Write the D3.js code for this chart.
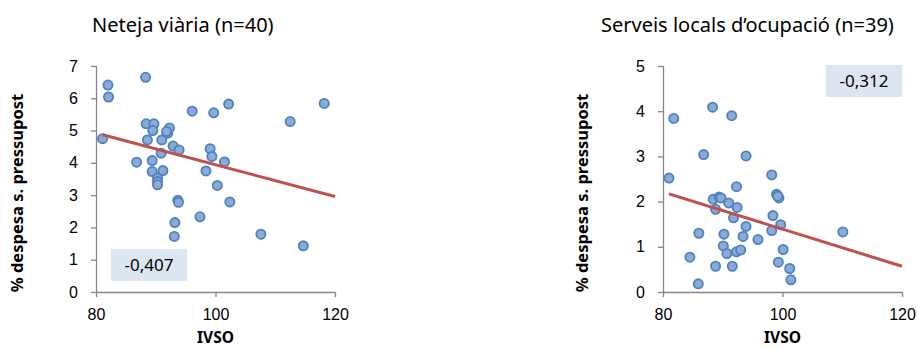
<!DOCTYPE html>
<html>
<head>
<meta charset="utf-8">
<script src="https://cdn.jsdelivr.net/npm/d3@7"></script>
<style>
  body { margin: 0; background: #fff; }
  svg { display: block; font-family: "Noto Sans", "Open Sans", sans-serif; }
</style>
</head>
<body>
<svg id="canvas" width="917" height="349"></svg>
<script>
// Neteja viària (n=40): [IVSO, % despesa]
const netejaPunts = [
  [81.1, 4.75], [82.0, 6.41], [82.1, 6.04], [88.3, 6.65], [86.8, 4.02],
  [88.4, 5.21], [89.7, 5.21], [89.5, 5.00], [88.6, 4.71], [89.4, 4.07],
  [89.4, 3.73], [90.3, 3.53], [90.3, 3.42], [90.3, 3.32], [91.0, 4.71],
  [90.9, 4.30], [91.2, 3.76], [92.0, 4.92], [92.3, 5.08], [92.9, 4.52],
  [93.9, 4.40], [93.7, 2.84], [93.8, 2.78], [93.2, 2.15], [93.1, 1.72],
  [96.1, 5.60], [97.4, 2.33], [98.4, 3.75], [99.1, 4.44], [99.4, 4.20],
  [99.7, 5.55], [100.3, 3.30], [101.5, 4.03], [102.2, 5.82], [102.4, 2.79],
  [107.6, 1.79], [112.5, 5.28], [114.7, 1.43], [118.2, 5.84], [91.8, 4.97]
];
const netejaTendencia = [[81.1, 4.87], [120, 2.96]];

// Serveis locals d'ocupació (n=39)
const ocupacioPunts = [
  [81.0, 2.52], [81.8, 3.84], [84.5, 0.77], [86.0, 1.30], [85.9, 0.18],
  [86.8, 3.04], [88.3, 4.09], [88.4, 2.05], [89.4, 2.10], [89.7, 2.08],
  [88.8, 1.83], [88.8, 0.57], [90.2, 1.28], [90.1, 1.02], [90.7, 0.85],
  [91.0, 1.97], [91.5, 3.90], [91.6, 0.57], [91.8, 1.64], [92.3, 2.33],
  [92.4, 1.87], [92.3, 0.89], [93.0, 0.93], [93.4, 1.23], [93.9, 1.45],
  [93.9, 3.01], [95.9, 1.16], [98.2, 2.59], [98.4, 1.69], [98.2, 1.36],
  [99.0, 2.16], [99.4, 2.08], [99.7, 1.49], [99.3, 0.66], [100.1, 0.94],
  [101.2, 0.52], [101.4, 0.27], [110.1, 1.33], [99.2, 2.12]
];
const ocupacioTendencia = [[81.0, 2.17], [120, 0.57]];

const xTicks = [80, 100, 120];
const netejaYTicks = [0, 1, 2, 3, 4, 5, 6, 7];
const ocupacioYTicks = [0, 1, 2, 3, 4, 5];

const svg = d3.select("#canvas");

const grafics = [
  {
    titol: "Neteja viària (n=40)", punts: netejaPunts, tendencia: netejaTendencia,
    yMax: 7, yTicks: netejaYTicks, r: "-0,407",
    esquerra: 96, titolX: 92, yLabelX: 23, caixa: { x: 111, y: 249 }
  },
  {
    titol: "Serveis locals d\u2019ocupació (n=39)", punts: ocupacioPunts, tendencia: ocupacioTendencia,
    yMax: 5, yTicks: ocupacioYTicks, r: "-0,312",
    esquerra: 663, titolX: 601, yLabelX: 588, caixa: { x: 826, y: 65 }
  }
];

const dalt = 66;
const baix = 292;
const ample = 239;
const grisEix = "#868686";

grafics.forEach(g => {
  const x = d3.scaleLinear().domain([80, 120]).range([g.esquerra, g.esquerra + ample]);
  const y = d3.scaleLinear().domain([0, g.yMax]).range([baix, dalt]);

  // Títol
  svg.append("text")
    .attr("x", g.titolX)
    .attr("y", 32)
    .attr("font-size", 20)
    .attr("fill", "#000")
    .text(g.titol);

  // Eixos
  const eixX = svg.append("g")
    .attr("transform", `translate(0,${baix})`)
    .call(d3.axisBottom(x).tickValues(xTicks).tickSize(5).tickPadding(12));
  const eixY = svg.append("g")
    .attr("transform", `translate(${g.esquerra},0)`)
    .call(d3.axisLeft(y).tickValues(g.yTicks).tickFormat(d3.format("d")).tickSize(5).tickPadding(13));

  [eixX, eixY].forEach(e => {
    e.selectAll("path, line").attr("stroke", grisEix).attr("stroke-width", 1.3);
    e.selectAll("text").attr("font-size", 16).attr("fill", "#000").attr("font-family", "inherit");
  });
  eixX.select(".domain").attr("d", `M${g.esquerra},0.5H${g.esquerra + ample}`);
  eixY.select(".domain").attr("d", `M0.5,${dalt}V${baix}`);

  // Títols d'eix
  svg.append("text")
    .attr("x", g.esquerra + ample / 2)
    .attr("y", 343)
    .attr("text-anchor", "middle")
    .attr("font-size", 15.5)
    .attr("font-weight", "bold")
    .text("IVSO");

  svg.append("text")
    .attr("transform", `translate(${g.yLabelX},193) rotate(-90)`)
    .attr("text-anchor", "middle")
    .attr("font-size", 16.5)
    .attr("font-weight", "bold")
    .text("% despesa s. pressupost");

  // Caixa del coeficient
  const caixa = svg.append("g").attr("transform", `translate(${g.caixa.x},${g.caixa.y})`);
  caixa.append("rect").attr("width", 76).attr("height", 32).attr("fill", "#dce6f2");
  caixa.append("text")
    .attr("x", 38).attr("y", 22)
    .attr("text-anchor", "middle")
    .attr("font-size", 17)
    .text(g.r);

  // Punts
  svg.append("g").selectAll("circle")
    .data(g.punts)
    .join("circle")
    .attr("cx", d => x(d[0]))
    .attr("cy", d => y(d[1]))
    .attr("r", 4.6)
    .attr("fill", "#8aaad8")
    .attr("stroke", "#4f81bd")
    .attr("stroke-width", 1.8);

  // Línia de tendència
  svg.append("path")
    .datum(g.tendencia)
    .attr("d", d3.line().x(d => x(d[0])).y(d => y(d[1])))
    .attr("fill", "none")
    .attr("stroke", "#c0504d")
    .attr("stroke-width", 3);
});
</script>
</body>
</html>
